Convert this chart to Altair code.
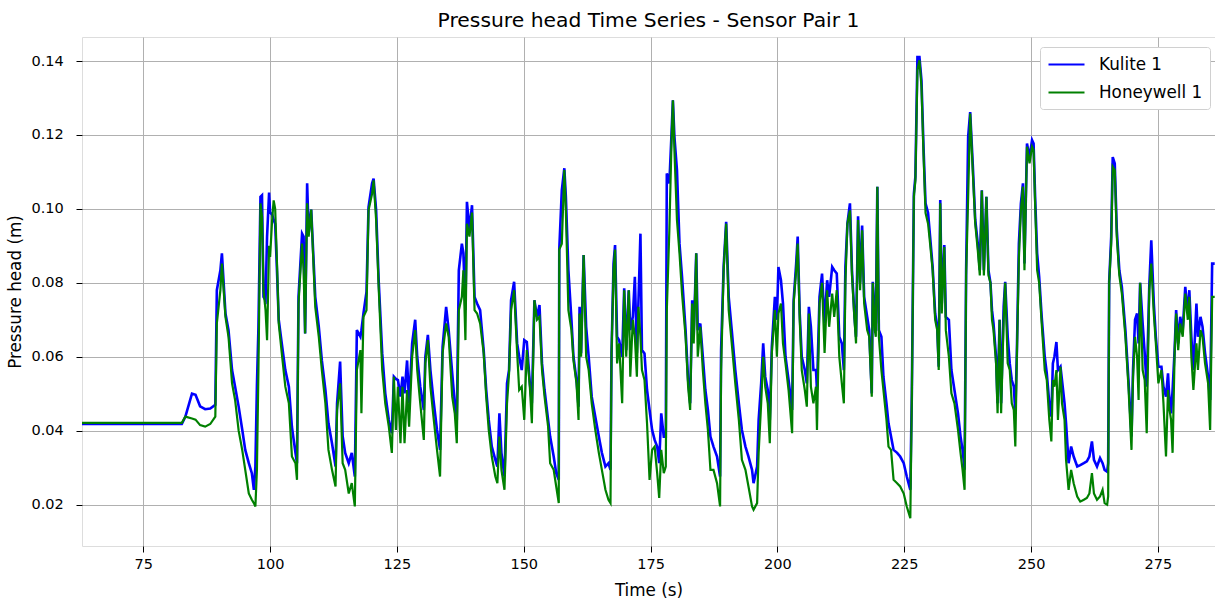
import altair as alt
import pandas as pd

# ---- data ----
time_s = [
    62.9, 70.0, 76.0, 82.6, 83.3, 84.6, 85.3, 86.2, 87.2, 88.2, 89.2, 89.5, 90.2, 90.5, 91.2, 91.8,
    92.5, 93.1, 93.8, 94.5, 95.1, 95.8, 96.4, 96.8, 97.1, 97.4, 97.7, 98.1, 98.4, 98.7, 99.1, 99.4,
    99.8, 100.0, 100.4,
    100.7, 101.0, 101.4, 101.7, 102.3, 103.0, 103.7, 104.3, 105.0, 105.3, 105.6, 106.3, 106.6, 106.9,
    107.3, 107.6, 108.1, 108.6, 108.9, 109.6, 110.2, 110.9, 111.5, 112.2, 112.9, 113.2, 113.8, 114.3,
    114.8, 115.5, 116.1, 116.7, 117.1, 117.8, 118.0, 118.4, 119.0, 119.4, 120.1, 120.4, 120.9, 121.4,
    122.1, 122.7, 123.4, 124.0, 124.4, 124.8, 125.2, 125.7, 126.1, 126.5, 127.0, 127.4, 128.0, 128.6,
    129.0, 129.6, 130.3, 130.6, 131.1, 131.6, 132.2, 132.9, 133.5, 134.0, 134.7, 135.2, 135.9, 136.4,
    136.8, 137.2, 137.8,
    138.1, 138.5, 138.8, 139.3, 139.8, 140.3, 140.8, 141.4, 142.1, 142.6, 143.1, 143.7, 144.4, 144.8,
    145.2, 145.6, 146.2, 146.7, 147.1, 147.5, 148.1, 148.7, 149.1, 149.6, 150.1, 150.6, 151.2, 151.6,
    152.1, 152.6, 153.1, 153.6, 154.1, 154.8, 155.2, 155.9, 156.4, 156.9, 157.0, 157.5, 158.0, 158.3,
    158.8, 159.4, 159.8, 160.4, 160.8, 161.0, 161.3, 161.8, 162.3, 162.8, 163.4, 164.1, 164.8, 165.4,
    166.1, 166.7, 167.1, 167.3, 167.7, 168.0, 168.4, 168.8, 169.4, 169.8, 170.2, 170.7, 171.0, 171.5,
    171.9, 172.3, 172.6, 173.0, 173.3, 173.8, 174.3, 174.8,
    175.3, 175.8, 176.3, 176.7, 177.1, 177.6, 178.0, 178.2, 178.7, 179.1, 179.4, 179.7, 180.2, 180.7,
    181.2, 181.9, 182.4, 182.8, 183.2, 183.5, 184.0, 184.3, 184.8, 185.3, 185.8, 186.3, 186.8, 187.4,
    188.1, 188.7, 188.9, 189.4, 189.9, 190.4, 191.0, 191.7, 192.4, 193.0, 193.7, 194.3, 195.0, 195.3,
    196.0, 196.3, 196.8, 197.2, 197.6, 198.1, 198.5, 198.9, 199.5, 199.9, 200.2, 200.7, 201.1, 201.6,
    202.2, 202.9, 203.2, 203.7, 204.0, 204.4, 204.8, 205.4, 205.8, 206.2, 206.6, 207.1, 207.6, 207.8,
    208.3, 208.8, 209.3, 209.8, 210.2, 210.8, 211.2, 211.7, 212.2, 212.7,
    213.1, 213.4, 213.8, 214.3, 214.7, 215.2, 215.5, 215.9, 216.3, 216.7, 217.1, 217.7, 218.1, 218.6,
    218.8, 219.2, 219.4, 219.7, 220.0, 220.5, 220.9, 221.5, 221.9, 222.4, 222.9, 223.6, 224.2, 224.9,
    225.5, 226.2, 226.5, 226.9, 227.2, 227.6, 228.0, 228.4, 228.8, 229.2, 229.7, 230.1, 230.6, 231.1,
    231.5, 231.8, 232.1, 232.4, 232.9, 233.2, 233.8, 234.3, 234.9, 235.6, 236.1, 236.5, 236.9, 237.2,
    237.6, 238.0, 238.5, 239.0, 239.5, 239.9, 240.3, 240.7, 241.2, 241.6, 242.0, 242.3, 242.6, 243.1,
    243.4, 243.8, 244.1, 244.6, 244.9, 245.4, 245.8, 246.2, 246.6, 246.9, 247.2, 247.6, 248.0, 248.4,
    248.7, 249.2, 249.7, 250.2,
    250.5, 250.8, 251.2, 251.6, 252.1, 252.7, 253.1, 253.6, 254.0, 254.3, 254.6, 255.0, 255.3, 255.8,
    256.1, 256.6, 256.9, 257.4, 257.9, 258.4, 259.1, 259.7, 260.4, 261.0, 261.5, 262.0, 262.4, 263.0,
    263.6, 264.1, 264.5, 265.0, 265.2, 265.4, 265.8, 266.1, 266.5, 266.9, 267.4, 267.9, 268.6, 269.2,
    269.8, 270.1, 270.5, 270.9, 271.2, 271.5, 272.0, 272.4, 272.8, 273.3, 273.7, 274.2, 274.6, 275.1,
    275.7, 276.1, 276.6, 277.0, 277.2, 277.6, 277.9, 278.3, 278.6, 279.0, 279.4, 279.9, 280.4, 280.9,
    281.2, 281.6, 282.0, 282.6, 282.9, 283.4, 283.8, 284.3, 284.9, 285.3, 285.7, 286.2,
]

kulite_1 = [
    0.0418, 0.0418, 0.0418, 0.0418, 0.0438, 0.0500, 0.0497, 0.0466, 0.0458, 0.0460, 0.0470, 0.0780, 0.0834, 0.0880, 0.0717, 0.0672,
    0.0564, 0.0519, 0.0465, 0.0403, 0.0348, 0.0312, 0.0285, 0.0240, 0.0303, 0.0520, 0.0680, 0.1033, 0.1037, 0.0762, 0.0753, 0.0925,
    0.1044, 0.0990, 0.0985,
    0.0970, 0.0960, 0.0816, 0.0700, 0.0636, 0.0564, 0.0519, 0.0410, 0.0340, 0.0312, 0.0762, 0.0933, 0.0925, 0.0663,
    0.1069, 0.0933, 0.0998, 0.0852, 0.0762, 0.0681, 0.0590, 0.0510, 0.0420, 0.0366, 0.0303, 0.0474, 0.0587, 0.0385,
    0.0340, 0.0312, 0.0340, 0.0276, 0.0672, 0.0654, 0.0672, 0.0717, 0.0775, 0.1005, 0.1069, 0.1082, 0.0996, 0.0807,
    0.0609, 0.0501, 0.0429, 0.0393, 0.0546, 0.0540, 0.0537, 0.0492, 0.0546, 0.0501, 0.0590, 0.0474, 0.0636, 0.0700,
    0.0600, 0.0519, 0.0456, 0.0600, 0.0659, 0.0564, 0.0483, 0.0402, 0.0348, 0.0627, 0.0735, 0.0672, 0.0555, 0.0474,
    0.0429, 0.0834, 0.0906,
    0.0880, 0.0726, 0.1019, 0.0943, 0.1010, 0.0762, 0.0744, 0.0726, 0.0618, 0.0510, 0.0429, 0.0357, 0.0321, 0.0303,
    0.0447, 0.0340, 0.0276, 0.0528, 0.0564, 0.0753, 0.0803, 0.0636, 0.0600, 0.0564, 0.0645, 0.0640, 0.0528, 0.0474,
    0.0753, 0.0708, 0.0740, 0.0582, 0.0510, 0.0429, 0.0384, 0.0330, 0.0285, 0.0267, 0.0890, 0.1050, 0.1110, 0.1033,
    0.0834, 0.0700, 0.0600, 0.0537, 0.0465, 0.0735, 0.0609, 0.0875, 0.0681, 0.0600, 0.0492, 0.0438, 0.0384, 0.0340,
    0.0303, 0.0312, 0.0294, 0.0610, 0.0852, 0.0902, 0.0654, 0.0645, 0.0600, 0.0785, 0.0618, 0.0780, 0.0672, 0.0708,
    0.0816, 0.0610, 0.0744, 0.0933, 0.0618, 0.0609, 0.0510, 0.0456,
    0.0402, 0.0375, 0.0357, 0.0312, 0.0447, 0.0384, 0.0384, 0.1096, 0.1069, 0.1195, 0.1294, 0.1195, 0.1105, 0.0906,
    0.0816, 0.0672, 0.0537, 0.0474, 0.0753, 0.0654, 0.0880, 0.0672, 0.0690, 0.0600, 0.0510, 0.0456, 0.0384, 0.0357,
    0.0330, 0.0276, 0.0618, 0.0843, 0.0965, 0.0762, 0.0672, 0.0564, 0.0474, 0.0402, 0.0357, 0.0330, 0.0294, 0.0258,
    0.0303, 0.0429, 0.0528, 0.0636, 0.0546, 0.0510, 0.0429, 0.0627, 0.0762, 0.0700, 0.0843, 0.0807, 0.0744, 0.0600,
    0.0537, 0.0456, 0.0753, 0.0852, 0.0925, 0.0717, 0.0600, 0.0564, 0.0528, 0.0735, 0.0681, 0.0564, 0.0564, 0.0510,
    0.0762, 0.0825, 0.0690, 0.0807, 0.0762, 0.0843, 0.0834, 0.0825, 0.0654, 0.0636,
    0.0564, 0.0843, 0.0960, 0.1015, 0.0834, 0.0708, 0.0654, 0.0980, 0.0800, 0.0955, 0.0762, 0.0708, 0.0672, 0.0501,
    0.0803, 0.0700, 0.0690, 0.1060, 0.0672, 0.0654, 0.0546, 0.0474, 0.0420, 0.0384, 0.0348, 0.0340, 0.0330, 0.0312,
    0.0276, 0.0240, 0.0501, 0.1041, 0.1087, 0.1411, 0.1411, 0.1348, 0.1168, 0.1015, 0.0989, 0.0925, 0.0843, 0.0717,
    0.0681, 0.0573, 0.1024, 0.0744, 0.0902, 0.0708, 0.0700, 0.0564, 0.0510, 0.0447, 0.0384, 0.0348, 0.0294, 0.0834,
    0.1195, 0.1262, 0.1123, 0.0970, 0.0906, 0.0834, 0.1050, 0.0834, 0.1033, 0.0834, 0.0800, 0.0726, 0.0690, 0.0600,
    0.0474, 0.0700, 0.0474, 0.0735, 0.0803, 0.0654, 0.0582, 0.0537, 0.0519, 0.0447, 0.0610, 0.0906, 0.1015, 0.1069,
    0.0852, 0.1177, 0.1140, 0.1186,
    0.1177, 0.1033, 0.0880, 0.0816, 0.0708, 0.0600, 0.0555, 0.0474, 0.0438, 0.0582, 0.0600, 0.0640, 0.0564, 0.0573,
    0.0537, 0.0474, 0.0420, 0.0312, 0.0357, 0.0330, 0.0303, 0.0307, 0.0312, 0.0317, 0.0330, 0.0371, 0.0321, 0.0303,
    0.0326, 0.0312, 0.0294, 0.0289, 0.0312, 0.0803, 0.0925, 0.1140, 0.1123, 0.0943, 0.0834, 0.0789, 0.0672, 0.0537,
    0.0384, 0.0564, 0.0700, 0.0717, 0.0636, 0.0800, 0.0690, 0.0610, 0.0519, 0.0789, 0.0915, 0.0744, 0.0654, 0.0573,
    0.0573, 0.0519, 0.0492, 0.0555, 0.0501, 0.0447, 0.0510, 0.0618, 0.0726, 0.0636, 0.0708, 0.0672, 0.0789, 0.0717,
    0.0780, 0.0654, 0.0564, 0.0744, 0.0654, 0.0708, 0.0681, 0.0610, 0.0546, 0.0483, 0.0852, 0.0852,
]

honeywell_1 = [
    0.0421, 0.0421, 0.0421, 0.0421, 0.0438, 0.0433, 0.0430, 0.0415, 0.0411, 0.0418, 0.0438, 0.0690, 0.0780, 0.0852, 0.0708, 0.0654,
    0.0528, 0.0483, 0.0400, 0.0348, 0.0294, 0.0230, 0.0213, 0.0204, 0.0195, 0.0294, 0.0564, 0.1015, 0.0980, 0.0780, 0.0726, 0.0645,
    0.0900, 0.0870, 0.0970,
    0.1023, 0.1000, 0.0834, 0.0690, 0.0610, 0.0519, 0.0474, 0.0330, 0.0312, 0.0267, 0.0744, 0.0906, 0.0834, 0.0663,
    0.1015, 0.0925, 0.0998, 0.0834, 0.0735, 0.0654, 0.0564, 0.0474, 0.0348, 0.0294, 0.0249, 0.0456, 0.0528, 0.0312,
    0.0294, 0.0230, 0.0258, 0.0195, 0.0564, 0.0618, 0.0447, 0.0708, 0.0726, 0.0996, 0.1041, 0.1077, 0.0970, 0.0788,
    0.0564, 0.0474, 0.0411, 0.0340, 0.0546, 0.0402, 0.0519, 0.0366, 0.0519, 0.0366, 0.0510, 0.0411, 0.0600, 0.0672,
    0.0564, 0.0474, 0.0375, 0.0582, 0.0645, 0.0519, 0.0438, 0.0348, 0.0276, 0.0610, 0.0690, 0.0654, 0.0492, 0.0447,
    0.0366, 0.0726, 0.0762,
    0.0834, 0.0645, 0.0960, 0.0925, 0.0990, 0.0726, 0.0717, 0.0690, 0.0610, 0.0492, 0.0402, 0.0330, 0.0276, 0.0258,
    0.0384, 0.0294, 0.0240, 0.0474, 0.0555, 0.0726, 0.0780, 0.0610, 0.0510, 0.0519, 0.0429, 0.0618, 0.0519, 0.0420,
    0.0753, 0.0700, 0.0708, 0.0564, 0.0492, 0.0411, 0.0312, 0.0294, 0.0249, 0.0204, 0.0890, 0.0906, 0.1105, 0.0996,
    0.0726, 0.0672, 0.0590, 0.0528, 0.0429, 0.0717, 0.0600, 0.0875, 0.0600, 0.0564, 0.0474, 0.0402, 0.0340, 0.0294,
    0.0240, 0.0213, 0.0204, 0.0610, 0.0834, 0.0890, 0.0582, 0.0636, 0.0474, 0.0780, 0.0600, 0.0780, 0.0546, 0.0700,
    0.0654, 0.0546, 0.0735, 0.0654, 0.0564, 0.0537, 0.0420, 0.0267,
    0.0348, 0.0357, 0.0285, 0.0218, 0.0348, 0.0285, 0.0303, 0.0726, 0.0942, 0.1168, 0.1294, 0.1159, 0.0970, 0.0880,
    0.0771, 0.0654, 0.0519, 0.0456, 0.0744, 0.0636, 0.0880, 0.0600, 0.0681, 0.0564, 0.0474, 0.0402, 0.0294, 0.0294,
    0.0258, 0.0195, 0.0564, 0.0834, 0.0960, 0.0726, 0.0636, 0.0528, 0.0429, 0.0321, 0.0294, 0.0249, 0.0195, 0.0186,
    0.0204, 0.0340, 0.0474, 0.0600, 0.0519, 0.0474, 0.0366, 0.0610, 0.0726, 0.0600, 0.0717, 0.0744, 0.0636, 0.0582,
    0.0510, 0.0393, 0.0744, 0.0834, 0.0906, 0.0700, 0.0564, 0.0510, 0.0465, 0.0717, 0.0519, 0.0474, 0.0519, 0.0402,
    0.0744, 0.0800, 0.0610, 0.0780, 0.0681, 0.0771, 0.0708, 0.0780, 0.0600, 0.0528,
    0.0474, 0.0800, 0.0960, 0.0996, 0.0820, 0.0700, 0.0636, 0.0970, 0.0780, 0.0942, 0.0744, 0.0672, 0.0654, 0.0492,
    0.0800, 0.0672, 0.0654, 0.1060, 0.0654, 0.0564, 0.0510, 0.0429, 0.0357, 0.0348, 0.0267, 0.0258, 0.0249, 0.0230,
    0.0195, 0.0163, 0.0492, 0.1033, 0.1077, 0.1375, 0.1402, 0.1330, 0.1150, 0.0989, 0.0960, 0.0906, 0.0834, 0.0700,
    0.0672, 0.0564, 0.1015, 0.0717, 0.0897, 0.0672, 0.0600, 0.0501, 0.0474, 0.0402, 0.0340, 0.0294, 0.0240, 0.0820,
    0.1033, 0.1258, 0.1105, 0.0960, 0.0888, 0.0820, 0.1050, 0.0820, 0.1033, 0.0820, 0.0800, 0.0700, 0.0672, 0.0582,
    0.0447, 0.0700, 0.0447, 0.0700, 0.0800, 0.0582, 0.0564, 0.0474, 0.0456, 0.0357, 0.0600, 0.0866, 0.0996, 0.1060,
    0.0834, 0.1168, 0.1123, 0.1168,
    0.1159, 0.1015, 0.0834, 0.0800, 0.0690, 0.0564, 0.0537, 0.0429, 0.0371, 0.0537, 0.0519, 0.0564, 0.0429, 0.0573,
    0.0474, 0.0429, 0.0321, 0.0240, 0.0294, 0.0258, 0.0222, 0.0208, 0.0213, 0.0218, 0.0230, 0.0285, 0.0230, 0.0213,
    0.0222, 0.0240, 0.0204, 0.0200, 0.0222, 0.0800, 0.0906, 0.1114, 0.1105, 0.0925, 0.0820, 0.0771, 0.0654, 0.0519,
    0.0348, 0.0546, 0.0654, 0.0600, 0.0483, 0.0800, 0.0564, 0.0537, 0.0393, 0.0780, 0.0852, 0.0717, 0.0636, 0.0528,
    0.0564, 0.0474, 0.0330, 0.0510, 0.0465, 0.0429, 0.0340, 0.0610, 0.0717, 0.0618, 0.0690, 0.0654, 0.0771, 0.0700,
    0.0762, 0.0600, 0.0510, 0.0636, 0.0564, 0.0672, 0.0654, 0.0582, 0.0528, 0.0402, 0.0762, 0.0762,
]

sensors = ["Kulite 1", "Honeywell 1"]
sensor_colors = ["#0000ff", "#008000"]
x_ticks = [75, 100, 125, 150, 175, 200, 225, 250, 275]
y_ticks = [0.02, 0.04, 0.06, 0.08, 0.10, 0.12, 0.14]
x_domain = [62.92, 286.26]
y_domain = [0.0088, 0.1465]

FONT = "DejaVu Sans"

df_k = pd.DataFrame({"t": time_s, "v": kulite_1, "sensor": sensors[0]})
df_h = pd.DataFrame({"t": time_s, "v": honeywell_1, "sensor": sensors[1]})

x_enc = alt.X(
    "t:Q",
    scale=alt.Scale(domain=x_domain, nice=False, zero=False),
    axis=alt.Axis(
        values=x_ticks, format="d", title="Time (s)",
        grid=True, gridColor="#b0b0b0", gridWidth=1,
        domain=False, tickSize=6, tickColor="black", tickWidth=1,
        labelFont=FONT, labelFontSize=14.5, labelColor="black", labelPadding=5.5,
        labelFlush=False, labelOverlap=False,
        titleFont=FONT, titleFontSize=16.8, titleFontWeight="normal", titleColor="black",
        titleBaseline="alphabetic", titleY=49.5,
    ),
)
y_enc = alt.Y(
    "v:Q",
    scale=alt.Scale(domain=y_domain, nice=False, zero=False),
    axis=alt.Axis(
        values=y_ticks, format=".2f", title="Pressure head (m)",
        grid=True, gridColor="#b0b0b0", gridWidth=1,
        domain=False, tickSize=6, tickColor="black", tickWidth=1,
        labelFont=FONT, labelFontSize=14.5, labelColor="black", labelPadding=12.7,
        labelFlush=False, labelOverlap=False,
        titleFont=FONT, titleFontSize=16.8, titleFontWeight="normal", titleColor="black",
        titleAngle=270, titleX=-62, titleY=254.5, titleBaseline="alphabetic", titleAlign="center",
    ),
)
color_enc = alt.Color(
    "sensor:N",
    scale=alt.Scale(domain=sensors, range=sensor_colors),
    legend=alt.Legend(
        title=None, orient="none", legendX=958, legendY=10,
        fillColor="white", strokeColor="#d0d0d0", cornerRadius=3, padding=7,
        symbolType="M-1,0H3", symbolSize=324, symbolStrokeWidth=2.2,
        labelFont=FONT, labelFontSize=16.8, labelColor="black", labelOffset=31,
        rowPadding=8,
    ),
)

line_k = alt.Chart(df_k).mark_line(strokeWidth=2.6, clip=True).encode(x=x_enc, y=y_enc, color=color_enc)
line_h = alt.Chart(df_h).mark_line(strokeWidth=2.2, clip=True).encode(x=x_enc, y=y_enc, color=color_enc)

chart = alt.layer(line_k, line_h).properties(
    width=1133, height=509,
    title=alt.TitleParams(
        "Pressure head Time Series - Sensor Pair 1",
        font=FONT, fontSize=20.3, fontWeight="normal", color="black",
        anchor="middle", baseline="alphabetic", offset=10, dy=20,
    ),
    autosize=alt.AutoSizeParams(type="none"),
    padding={"left": 82, "top": 37, "right": 0, "bottom": 56},
).configure_view(stroke="black", strokeWidth=1.2).configure(background="white")

chart.save("out.html", embed_options={"renderer": "svg", "actions": False})
